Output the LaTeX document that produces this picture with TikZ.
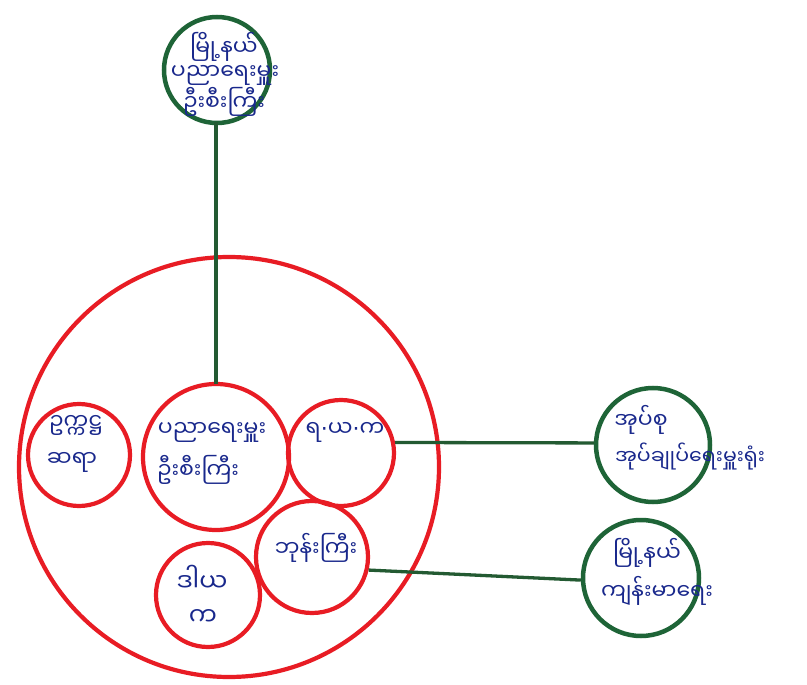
\documentclass[tikz,border=0pt]{standalone}
\usepackage{fontspec}
\newfontfamily\mmfont[Script=Myanmar]{Noto Sans Myanmar UI}
\newfontfamily\dotfont{DejaVu Sans}
\definecolor{myred}{RGB}{232,28,36}
\definecolor{mygreen}{RGB}{30,100,55}
\definecolor{myline}{RGB}{35,90,50}
\definecolor{myblue}{RGB}{25,40,140}
\begin{document}
\begin{tikzpicture}[x=1pt,y=-1pt,
  redc/.style={circle, draw=myred, line width=4.2pt, inner sep=0pt},
  grc/.style={circle, draw=mygreen, line width=4.5pt, inner sep=0pt},
  lbl/.style={text=myblue, inner sep=0pt, font=\mmfont\fontsize{22}{26}\selectfont},
  conn/.style={draw=myline, line width=3.3pt}]
\useasboundingbox (0,0) rectangle (807,685);
\fill[white] (0,0) rectangle (807,685);
% circles
\node[grc, minimum size=106pt] (top) at (217,70) {};
\node[redc, minimum size=420pt] (big) at (229,467) {};
\node[redc, minimum size=102pt] (left) at (79,455) {};
\node[redc, minimum size=146pt] (cen) at (216,457) {};
\node[redc, minimum size=106pt] (ryk) at (341,453) {};
\node[redc, minimum size=104pt] (dy) at (208,595) {};
\node[redc, minimum size=112pt] (kon) at (312,557) {};
\node[grc, minimum size=114pt] (ga) at (653,445) {};
\node[grc, minimum size=116pt] (gb) at (641,578) {};
% connectors
\coordinate (topb) at (216,122);
\coordinate (cent) at (216,384);
\draw[conn] (topb) -- (cent);
\draw[conn] (ryk.11) -- (ga.178);
\draw[conn] (kon.-13) -- (gb.182);
% labels
\node[lbl] (t1) at (224,47) {မြို့နယ်};
\node[lbl] (t2) at (225,75) {ပညာရေးမှူး};
\node[lbl] (t3) at (224,102) {ဦးစီးကြီး};
\node[lbl] (l1) at (76,425) {ဥက္ကဋ္ဌ};
\node[lbl] (l2) at (72,462) {ဆရာ};
\node[lbl] (c1) at (212,432) {ပညာရေးမှူး};
\node[lbl] (c2) at (198,470) {ဦးစီးကြီး};
\node[lbl] (r1) at (345,432) {ရ{\dotfont ·}ယ{\dotfont ·}က};
\node[lbl, font=\mmfont\fontsize{25}{29}\selectfont] (d1) at (202,578) {ဒါယ};
\node[lbl, font=\mmfont\fontsize{25}{29}\selectfont] (d2) at (203,617) {က};
\node[lbl] (k1) at (316,548) {ဘုန်းကြီး};
\node[lbl] (a1) at (641,420) {အုပ်စု};
\node[lbl, font=\mmfont\fontsize{20.5}{24}\selectfont] (a2) at (690,457) {အုပ်ချုပ်ရေးမှူးရုံး};
\node[lbl] (b1) at (647,553) {မြို့နယ်};
\node[lbl] (b2) at (657,591) {ကျန်းမာရေး};
\end{tikzpicture}
\end{document}
